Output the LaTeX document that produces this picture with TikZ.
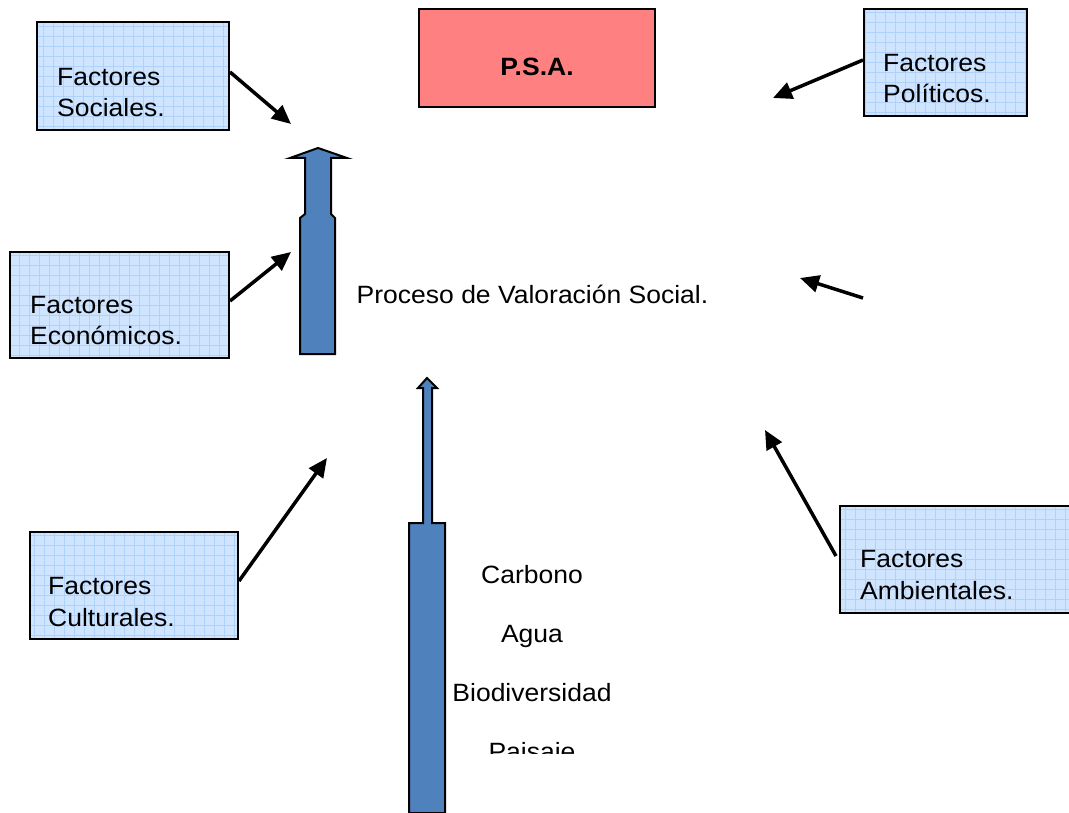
\documentclass[tikz,border=0pt]{standalone}
\usepackage{fontspec}
\setmainfont{Liberation Sans}[FakeStretch=1.06]
\usetikzlibrary{arrows.meta}
\definecolor{boxfill}{RGB}{206,228,255}
\definecolor{gridblue}{RGB}{176,210,250}
\definecolor{psafill}{RGB}{255,128,128}
\definecolor{blockblue}{RGB}{79,129,189}
\begin{document}
\begin{tikzpicture}[x=1pt,y=-1pt,
  factbox/.style={draw=black, line width=2pt, fill=boxfill, inner sep=0pt,
    path picture={\draw[gridblue, line width=0.6pt, step=10pt]
      (path picture bounding box.south west) grid (path picture bounding box.north east);}},
  psabox/.style={draw=black, line width=2pt, fill=psafill, inner sep=0pt},
  ftext/.style={font=\fontsize{25}{31.5}\selectfont, align=left, inner sep=0pt, anchor=north west},
  midtext/.style={font=\fontsize{25}{29}\selectfont, inner sep=0pt, anchor=base},
  conn/.style={line width=3.5pt, -{Triangle[length=19pt,width=17pt]}},
  blockarrow/.style={draw=black, line width=2pt, fill=blockblue, line join=miter}]

\fill[white] (0,0) rectangle (1069,813);
\useasboundingbox (0,0) rectangle (1069,813);
\clip (0,0) rectangle (1069,813);

% factor boxes
\node[factbox, minimum width=192pt, minimum height=108pt] (soc) at (133,76) {};
\node[factbox, minimum width=163pt, minimum height=107pt] (pol) at (945.5,62.5) {};
\node[factbox, minimum width=219pt, minimum height=106pt] (eco) at (119.5,305) {};
\node[factbox, minimum width=208pt, minimum height=107pt] (cul) at (134,585.5) {};
\node[factbox, minimum width=250pt, minimum height=107pt] (amb) at (965,559.5) {};
\node[psabox, minimum width=236pt, minimum height=98pt] (psa) at (537,58) {};

\node[ftext] (socT) at (57,68.1) {Factores\\Sociales.};
\node[ftext] (polT) at (883,54.1) {Factores\\Políticos.};
\node[ftext] (ecoT) at (30,296.1) {Factores\\Económicos.};
\node[ftext] (culT) at (48,577.1) {Factores\\Culturales.};
\node[ftext] (ambT) at (860,550.1) {Factores\\Ambientales.};
\node[midtext, font=\bfseries\fontsize{25}{29}\selectfont] (psaT) at (537,76) {P.S.A.};

% central texts
\node[midtext] (proc) at (532.5,304) {Proceso de Valoración Social.};
\node[midtext] (carb) at (532,583) {Carbono};
\node[midtext] (agua) at (532,642) {Agua};
\node[midtext] (biod) at (532,701) {Biodiversidad};
\begin{scope}
  \clip (420,700) rectangle (650,753);
  \node[midtext] (pais) at (532,760) {Paisaje};
\end{scope}

% block arrows
\draw[blockarrow] (300,354) -- (335,354) -- (335,218) -- (331,214) -- (331,158)
  -- (347,158) -- (318,148) -- (290,158) -- (305,158) -- (305,214) -- (300,218) -- cycle;
\draw[blockarrow] (409,813) -- (445,813) -- (445,523) -- (432,523) -- (432,388)
  -- (437,388) -- (427,378) -- (418,388) -- (423,388) -- (423,523) -- (409,523) -- cycle;

% connectors
\coordinate (socEnd) at (291,124);
\coordinate (polEnd) at (773,98);
\coordinate (ecoEnd) at (291,252);
\coordinate (freeA) at (863,298);
\coordinate (freeB) at (800,278);
\coordinate (culEnd) at (327,458);
\coordinate (ambEnd) at (765,430);

\draw[conn] ([yshift=4pt]soc.east) -- (socEnd);
\draw[conn] ([yshift=2.5pt]pol.west) -- (polEnd);
\draw[conn] ([yshift=4pt]eco.east) -- (ecoEnd);
\draw[conn] (freeA) -- (freeB);
\draw[conn] ([yshift=4.5pt]cul.east) -- (culEnd);
\draw[conn] ([shift={(-3pt,3.5pt)}]amb.west) -- (ambEnd);
\end{tikzpicture}
\end{document}
